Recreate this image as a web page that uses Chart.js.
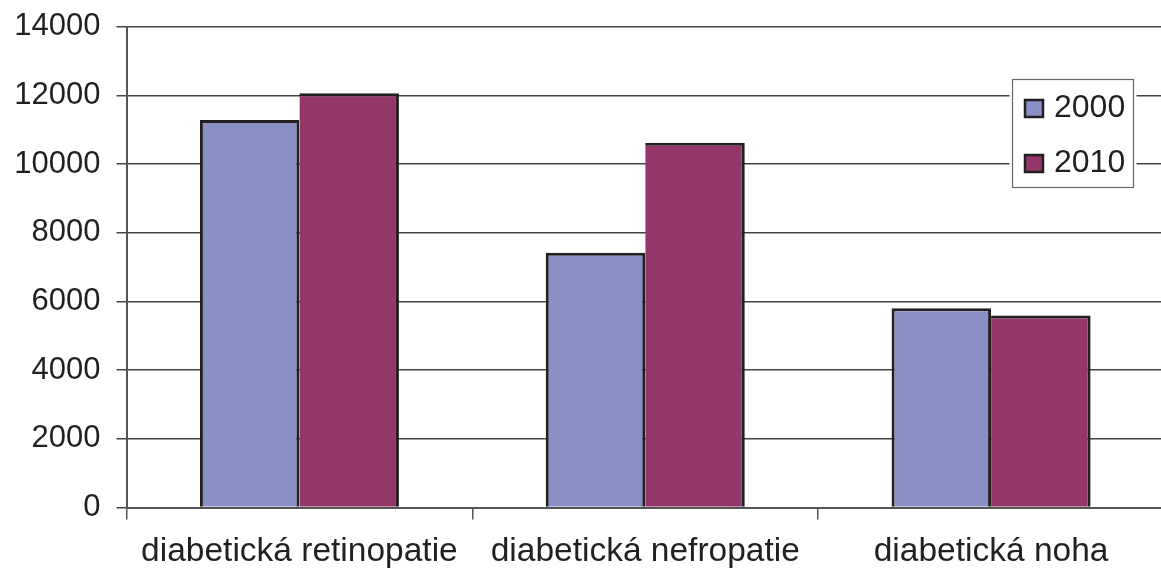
<!DOCTYPE html>
<html>
<head>
<meta charset="utf-8">
<script src="https://cdn.jsdelivr.net/npm/chart.js@4/dist/chart.umd.min.js"></script>
<style>
  html, body { margin: 0; padding: 0; background: #fff; overflow: hidden; }
  #wrap { width: 1164px; height: 571px; }
</style>
</head>
<body>
<div id="wrap"><canvas id="c" width="1164" height="571"></canvas></div>
<script>
// Počet pacientů s diabetickými komplikacemi
const categories = ['diabetická retinopatie', 'diabetická nefropatie', 'diabetická noha'];
const seriesLabels = ['2000', '2010'];
const values2000 = [11280, 7420, 5800];
const values2010 = [12060, 10620, 5590];
const yTickValues = [0, 2000, 4000, 6000, 8000, 10000, 12000, 14000];

const colors = ['#8a8fc5', '#933669'];
const ink = '#231f20';
const fontFamily = '"Liberation Sans", Arial, Helvetica, sans-serif';

// Legend drawn as a boxed panel inside the plot, top right
const boxLegend = {
  id: 'boxLegend',
  afterDraw(chart) {
    const ctx = chart.ctx;
    const x = 1012.5, y = 79.5, w = 121, h = 108;
    ctx.save();
    ctx.fillStyle = '#fff';
    ctx.fillRect(x - 3, y, w + 6, h);
    ctx.strokeStyle = '#666';
    ctx.lineWidth = 1.2;
    ctx.strokeRect(x, y, w, h);
    ctx.font = '32px ' + fontFamily;
    ctx.textBaseline = 'alphabetic';
    chart.data.datasets.forEach((ds, i) => {
      const cy = 108.5 + i * 55;
      ctx.fillStyle = ds.backgroundColor;
      ctx.fillRect(1025, cy - 8.5, 18, 17);
      ctx.strokeStyle = ink;
      ctx.lineWidth = 2.5;
      ctx.strokeRect(1025, cy - 8.5, 18, 17);
      ctx.fillStyle = ink;
      ctx.fillText(ds.label, 1054, cy + 8.5);
    });
    ctx.restore();
  }
};

new Chart(document.getElementById('c'), {
  type: 'bar',
  data: {
    labels: categories,
    datasets: [
      { label: seriesLabels[0], data: values2000, backgroundColor: colors[0], borderColor: ink,
        borderWidth: { top: 3, left: 3, right: 3, bottom: 0 } },
      { label: seriesLabels[1], data: values2010, backgroundColor: colors[1], borderColor: ink,
        borderWidth: { top: 3, left: 0, right: 3, bottom: 0 } }
    ]
  },
  options: {
    responsive: false,
    devicePixelRatio: 1,
    animation: false,
    layout: { padding: { top: 26.7, left: 0, right: 0, bottom: 0 } },
    datasets: { bar: { categoryPercentage: 0.5755, barPercentage: 1.0 } },
    plugins: { legend: { display: false }, tooltip: { enabled: false } },
    scales: {
      x: {
        offset: true,
        grid: { display: true, drawOnChartArea: false, drawTicks: true, tickLength: 12, color: '#555', lineWidth: 1.5, offset: true },
        border: { display: true, color: '#555', width: 2 },
        ticks: { color: ink, font: { family: fontFamily, size: 33.5 }, padding: 12, maxRotation: 0, autoSkip: false },
        afterFit(scale) { scale.height = 63.5; scale.paddingLeft = 0; scale.paddingRight = 0; }
      },
      y: {
        min: 0,
        max: 14000,
        afterBuildTicks(scale) { scale.ticks = yTickValues.map(v => ({ value: v })); },
        grid: { color: '#444', lineWidth: 1.5, tickLength: 10 },
        border: { display: true, color: '#555', width: 2 },
        ticks: { color: ink, font: { family: fontFamily, size: 31 }, padding: 16, callback: v => String(v) },
        afterFit(scale) { scale.width = 126.5; scale.paddingTop = 0; scale.paddingBottom = 0; }
      }
    }
  },
  plugins: [boxLegend]
});
</script>
</body>
</html>
